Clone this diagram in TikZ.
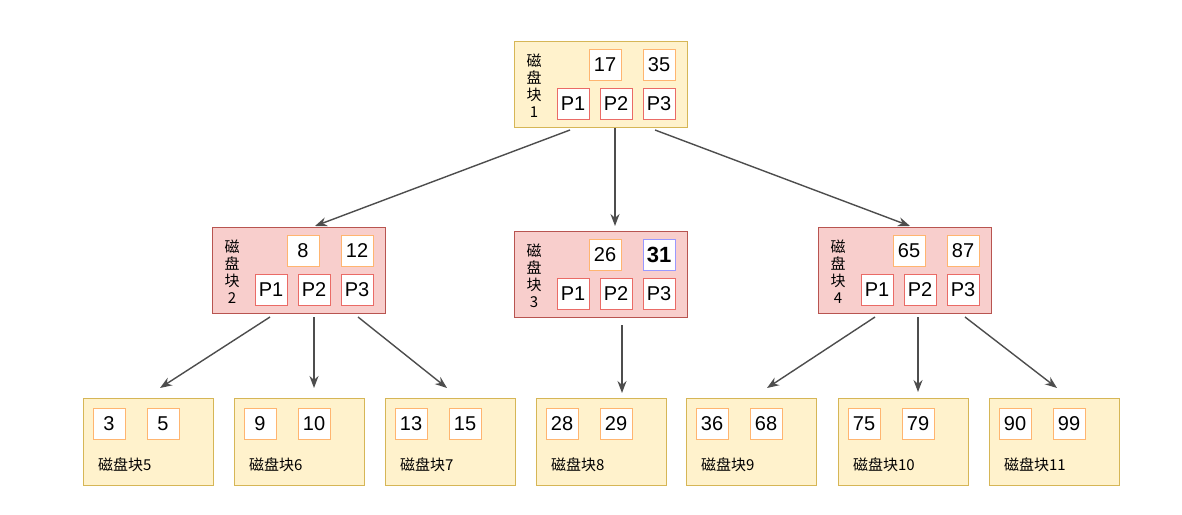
\documentclass[tikz,border=0pt]{standalone}
\usepackage{fontspec}
\setmainfont{Liberation Sans}
\newfontfamily\cjk{Noto Sans CJK SC}
\usetikzlibrary{arrows.meta,positioning}
\definecolor{yfill}{HTML}{FFF2CC}
\definecolor{ydraw}{HTML}{D6B656}
\definecolor{rfill}{HTML}{F8CECC}
\definecolor{rdraw}{HTML}{B85450}
\definecolor{kdraw}{HTML}{FFB570}
\definecolor{pdraw}{HTML}{EA6B66}
\definecolor{adraw}{HTML}{4D4D4D}
\begin{document}
\begin{tikzpicture}[x=0.5pt,y=-0.5pt,>={Stealth[length=6pt]},
	yblock/.style={draw=ydraw,fill=yfill,line width=0.5pt},
	rblock/.style={draw=rdraw,fill=rfill,line width=0.5pt},
	key/.style={draw=kdraw,fill=white,minimum width=16pt,minimum height=15.5pt,inner sep=0pt,font=\fontsize{10}{10}\selectfont},
	ptr/.style={draw=pdraw,fill=white,minimum width=16pt,minimum height=15.5pt,inner sep=0pt,font=\fontsize{10}{10}\selectfont},
	vlabel/.style={align=center,font=\cjk\fontsize{7.5}{8.5}\selectfont},
	hlabel/.style={anchor=west,font=\cjk\fontsize{7.5}{8.5}\selectfont},
	link/.style={->,draw=adraw,line width=0.7pt}]
	\fill[white] (0,0) rectangle (1182,514);

	% inner blocks: name/left x/top y/style/number/key1/key2
	\foreach \n/\x/\y/\s/\k/\a/\b in {B1/514/41/yblock/1/17/35,
		B2/212/227/rblock/2/8/12,B3/514/231/rblock/3/26/31,B4/818/227/rblock/4/65/87}{
		\node[\s,minimum width=86.5pt,minimum height=43pt,inner sep=0pt,anchor=north west] (\n) at (\x,\y) {};
		\node[vlabel] (\n-l) at (\x+20,\y+45) {磁\\盘\\块\\\k};
		\node[key] (\n-k1) at (\x+91,\y+24) {\a};
		\node[ptr] (\n-p1) at (\x+59,\y+63) {P1};
		\node[ptr] (\n-p2) at (\x+102,\y+63) {P2};
		\node[ptr] (\n-p3) at (\x+145,\y+63) {P3};
	}
	\node[key] (B1-k2) at (514+145,41+24) {35};
	\node[key] (B2-k2) at (212+145,227+24) {12};
	\node[key] (B4-k2) at (818+145,227+24) {87};
	\node[key,draw=blue!40,font=\bfseries\fontsize{11}{11}\selectfont] (B3-k2) at (514+145,231+24) {31};

	% leaf blocks: name/left x/key1/key2/number
	\foreach \n/\x/\a/\b/\k in {L5/83/3/5/5,L6/234/9/10/6,L7/385/13/15/7,L8/536/28/29/8,
		L9/686/36/68/9,L10/838/75/79/10,L11/989/90/99/11}{
		\node[yblock,minimum width=65pt,minimum height=43.5pt,inner sep=0pt,anchor=north west] (\n) at (\x,398) {};
		\node[key] (\n-k1) at (\x+26,424) {\a};
		\node[key] (\n-k2) at (\x+80,424) {\b};
		\node[hlabel] (\n-l) at (\x+8,465) {磁盘块\k};
	}

	\coordinate (c1) at (570,130); \coordinate (c2) at (615,128); \coordinate (c3) at (655,130);
	\coordinate (c4) at (270,317); \coordinate (c5) at (314,317); \coordinate (c6) at (358,317);
	\coordinate (c7) at (622,325);
	\coordinate (c8) at (875,317); \coordinate (c9) at (918,317); \coordinate (c10) at (965,317);
	\draw[link] (c1) -- (315,226);
	\draw[link] (c2) -- (615,226);
	\draw[link] (c3) -- (910,226);
	\draw[link] (c4) -- (160,388);
	\draw[link] (c5) -- (314,388);
	\draw[link] (c6) -- (447,388);
	\draw[link] (c7) -- (622,393);
	\draw[link] (c8) -- (767,388);
	\draw[link] (c9) -- (918,392);
	\draw[link] (c10) -- (1057,388);
\end{tikzpicture}
\end{document}
